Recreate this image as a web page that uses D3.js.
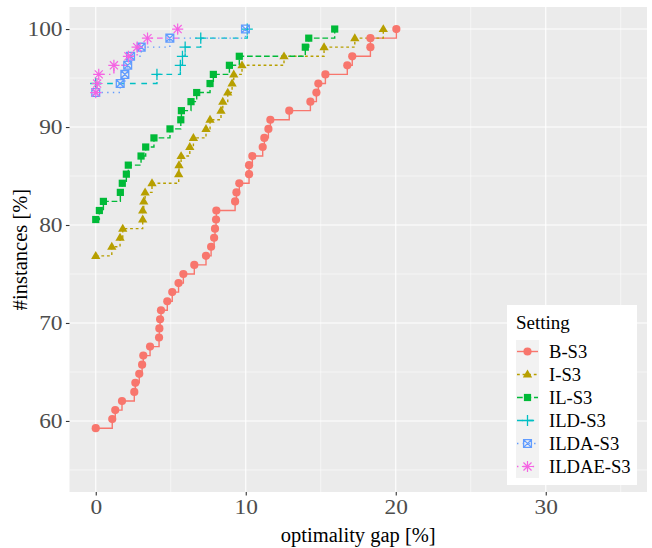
<!DOCTYPE html>
<html><head><meta charset="utf-8">
<script src="https://cdn.jsdelivr.net/npm/d3@7"></script>
<style>body{margin:0;background:#fff}</style>
</head><body>
<svg id="chart" width="652" height="548"></svg>
<script>
// ---- data ----
const settings = ["B-S3","I-S3","IL-S3","ILD-S3","ILDA-S3","ILDAE-S3"];
const gapB = [0,1.1,1.3,1.75,2.57,2.64,2.9,3.09,3.17,3.62,4.22,4.24,4.29,4.35,4.77,5.1,5.52,5.84,6.57,7.35,7.69,7.89,7.95,8.02,8.04,9.29,9.38,9.57,10.22,10.22,10.44,11.13,11.24,11.51,11.64,12.9,14.31,14.71,14.84,15.31,16.77,17.1,18.31,18.31,20.04];
const pctB = [59.26,60.19,61.11,62.04,62.96,63.89,64.81,65.74,66.67,67.59,68.52,69.44,70.37,71.3,72.22,73.15,74.07,75.0,75.93,76.85,77.78,78.7,79.63,80.56,81.48,82.41,83.33,84.26,85.19,86.11,87.04,87.96,88.89,89.81,90.74,91.67,92.59,93.52,94.44,95.37,96.3,97.22,98.15,99.07,100];
const gapI = [0,1.07,1.62,1.8,3.13,3.13,3.2,3.29,3.75,5.53,5.55,5.69,6.27,6.51,7.35,7.62,8.35,8.47,8.8,9.09,9.2,9.75,12.55,15.22,17.27,19.17];
const pctI = [76.85,77.78,78.7,79.63,80.56,81.48,82.41,83.33,84.26,85.19,86.11,87.04,87.96,88.89,89.81,90.74,91.67,92.59,93.52,94.44,95.37,96.3,97.22,98.15,99.07,100];
const gapIL = [0,0.24,0.51,1.64,1.77,2.04,2.17,3.02,3.33,3.88,4.95,5.67,5.71,6.35,6.73,7.62,7.84,8.91,9.57,13.97,14.2,15.93];
const pctIL = [80.56,81.48,82.41,83.33,84.26,85.19,86.11,87.04,87.96,88.89,89.81,90.74,91.67,92.59,93.52,94.44,95.37,96.3,97.22,98.15,99.07,100];
const gapILD = [0,4.08,5.64,5.78,5.96,7.0,10.1];
const pctILD = [94.44,95.37,96.3,97.22,98.15,99.07,100];
const gapILDA = [0,1.63,1.94,2.13,2.32,3.03,4.94,9.98];
const pctILDA = [93.52,94.44,95.37,96.3,97.22,98.15,99.07,100];
const gapILDAE = [0,0.09,0.2,1.21,2.18,2.76,3.45,5.46];
const pctILDAE = [93.52,94.44,95.37,96.3,97.22,98.15,99.07,100];
const xTicks = [0,10,20,30];
const yTicks = [60,70,80,90,100];
const xTitle = "optimality gap [%]";
const yTitle = "#instances [%]";
const legendTitle = "Setting";

// ---- styles ----
const colors = ["#F8766D","#B79F00","#00BA38","#00BFC4","#619CFF","#F564E3"];
const dashes = [null,"2.8,2.8","5.7,2.8","5.7,5.7","1.4,4.3","1.4,4.3,5.7,4.3"];
const shapes = ["circle","triangle","square","plus","squarex","asterisk"];
const gaps = [gapB,gapI,gapIL,gapILD,gapILDA,gapILDAE];
const pcts = [pctB,pctI,pctIL,pctILD,pctILDA,pctILDAE];
const series = settings.map((s,i)=>({name:s,color:colors[i],dash:dashes[i],shape:shapes[i],
  pts:gaps[i].map((g,j)=>({x:g,y:pcts[i][j]}))}));

const svg = d3.select("#chart");
const P = {l:69.5, r:647, t:7, b:492};
const x = d3.scaleLinear().domain([-1.75,36.75]).range([P.l,P.r]);
const y = d3.scaleLinear().domain([52.75,102.25]).range([P.b,P.t]);
const font = '"Liberation Serif","Times New Roman",serif';
const stretch = 1.17;

svg.append("rect").attr("width",652).attr("height",548).attr("fill","#fff");
svg.append("rect").attr("x",P.l).attr("y",P.t).attr("width",P.r-P.l).attr("height",P.b-P.t).attr("fill","#EBEBEB");

const g = svg.append("g");
[5,15,25,35].forEach(v=>g.append("line").attr("x1",x(v)).attr("x2",x(v)).attr("y1",P.t).attr("y2",P.b).attr("stroke","#fff").attr("stroke-width",0.55));
[55,65,75,85,95].forEach(v=>g.append("line").attr("y1",y(v)).attr("y2",y(v)).attr("x1",P.l).attr("x2",P.r).attr("stroke","#fff").attr("stroke-width",0.55));
xTicks.forEach(v=>g.append("line").attr("x1",x(v)).attr("x2",x(v)).attr("y1",P.t).attr("y2",P.b).attr("stroke","#fff").attr("stroke-width",1.1));
yTicks.forEach(v=>g.append("line").attr("y1",y(v)).attr("y2",y(v)).attr("x1",P.l).attr("x2",P.r).attr("stroke","#fff").attr("stroke-width",1.1));

const xAxis = svg.append("g").attr("transform",`translate(0,${P.b})`)
  .call(d3.axisBottom(x).tickValues(xTicks).tickSize(3.6).tickPadding(3).tickFormat(d3.format("d")));
const yAxis = svg.append("g").attr("transform",`translate(${P.l},0)`)
  .call(d3.axisLeft(y).tickValues(yTicks).tickSize(3.6).tickPadding(3).tickFormat(d3.format("d")));
[xAxis,yAxis].forEach(a=>{
  a.attr("font-family",font).attr("font-size",20);
  a.select(".domain").remove();
  a.selectAll(".tick line").attr("stroke","#333").attr("stroke-width",1.1);
  a.selectAll(".tick text").attr("fill","#4D4D4D");
});
xAxis.selectAll(".tick text").attr("dy","0.78em").attr("transform",`scale(${stretch},1)`);
yAxis.selectAll(".tick text").attr("dy","0.34em").attr("x",-7/stretch).attr("transform",`scale(${stretch},1)`);

svg.append("text").attr("x",(P.l+P.r)/2).attr("y",541.5).attr("text-anchor","middle")
  .attr("font-family",font).attr("font-size",20.5).text(xTitle);
svg.append("text").attr("transform",`translate(27,${(P.t+P.b)/2}) rotate(-90)`).attr("text-anchor","middle")
  .attr("font-family",font).attr("font-size",20.5).text(yTitle);

function marker(sel, shape, color, cx, cy){
  const m = sel.append("g").attr("transform",`translate(${cx},${cy})`);
  if(shape==="circle") m.append("circle").attr("r",4.1).attr("fill",color);
  else if(shape==="square") m.append("rect").attr("x",-3.6).attr("y",-3.6).attr("width",7.2).attr("height",7.2).attr("fill",color);
  else if(shape==="triangle"){ const s=4.9; m.append("path").attr("d",`M0,${-s*1.0}L${s*0.95},${s*0.62}L${-s*0.95},${s*0.62}Z`).attr("fill",color);}
  else if(shape==="plus"){ const s=5.6; m.append("path").attr("d",`M${-s},0H${s}M0,${-s}V${s}`).attr("stroke",color).attr("stroke-width",1.3).attr("fill","none");}
  else if(shape==="squarex"){ const s=3.9; m.append("path").attr("d",`M${-s},${-s}H${s}V${s}H${-s}ZM${-s},${-s}L${s},${s}M${s},${-s}L${-s},${s}`).attr("stroke",color).attr("stroke-width",1.3).attr("fill","none");}
  else if(shape==="asterisk"){ const s=5.6, d=s*0.72; m.append("path").attr("d",`M${-s},0H${s}M0,${-s}V${s}M${-d},${-d}L${d},${d}M${d},${-d}L${-d},${d}`).attr("stroke",color).attr("stroke-width",1.2).attr("fill","none");}
}

const line = d3.line().x(d=>x(d.x)).y(d=>y(d.y)).curve(d3.curveStepAfter);
const lg = svg.append("g");
series.forEach(s=>{
  lg.append("path").datum(s.pts).attr("d",line).attr("fill","none").attr("stroke",s.color)
    .attr("stroke-width",1.4).attr("stroke-dasharray",s.dash).attr("stroke-linecap","butt");
});
const pg = svg.append("g");
series.forEach(s=>s.pts.forEach(p=>marker(pg,s.shape,s.color,x(p.x),y(p.y))));

const L = svg.append("g").attr("font-family",font);
L.append("rect").attr("x",507).attr("y",305).attr("width",130).attr("height",180).attr("fill","#fff");
L.append("text").attr("x",516).attr("y",328.5).attr("font-size",19).text(legendTitle);
L.append("rect").attr("x",516).attr("y",340).attr("width",23).attr("height",138).attr("fill","#F2F2F2");
series.forEach((s,i)=>{
  const cy = 351.5 + i*23;
  L.append("line").attr("x1",517).attr("x2",538).attr("y1",cy).attr("y2",cy).attr("stroke",s.color)
    .attr("stroke-width",1.4).attr("stroke-dasharray",s.dash);
  marker(L,s.shape,s.color,527.5,cy);
  L.append("text").attr("x",549).attr("y",cy+6.5).attr("font-size",18.6).text(s.name);
});
</script>
</body></html>
